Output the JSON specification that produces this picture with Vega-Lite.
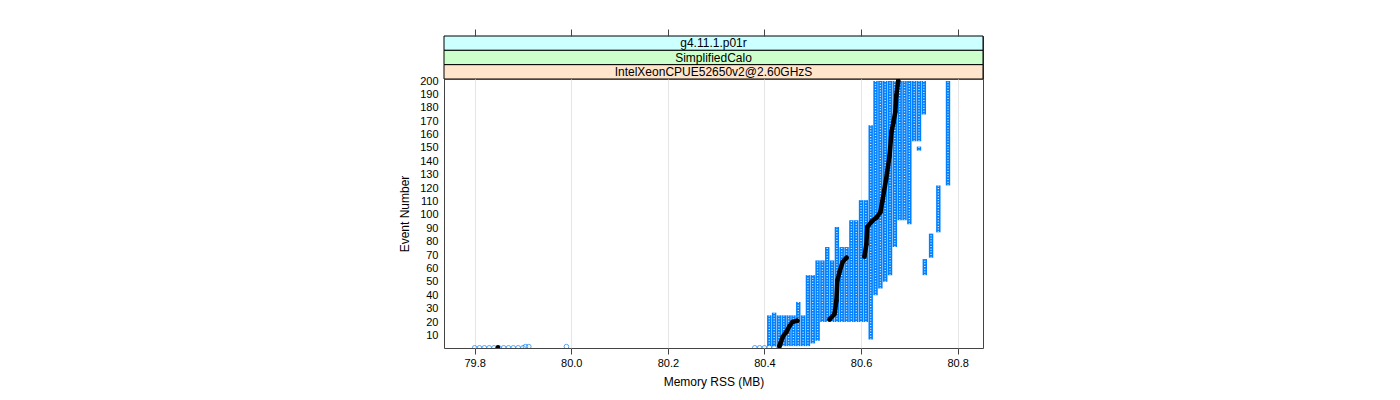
{
  "$schema": "https://vega.github.io/schema/vega-lite/v6.json",
  "padding": {"left": 398, "top": 28, "right": 5, "bottom": 5},
  "autosize": {"type": "pad"},
  "background": "white",
  "spacing": 0,
  "bounds": "flush",
  "config": {
    "font": "Liberation Sans",
    "view": {"stroke": "#444444", "strokeWidth": 1},
    "axis": {"labelFont": "Liberation Sans", "titleFont": "Liberation Sans", "labelColor": "#000000", "titleColor": "#000000", "titleFontWeight": "normal", "domain": false, "tickColor": "#444444", "grid": false}
  },
  "datasets": {
    "strips": [
      {"label": "g4.11.1.p01r"},
      {"label": "SimplifiedCalo"},
      {"label": "IntelXeonCPUE52650v2@2.60GHzS"}
    ],
    "cols": [
      {"v": 80.41, "a": 2, "b": 25},
      {"v": 80.42, "a": 2, "b": 27},
      {"v": 80.43, "a": 2, "b": 25},
      {"v": 80.44, "a": 2, "b": 25},
      {"v": 80.45, "a": 2, "b": 25},
      {"v": 80.46, "a": 2, "b": 25},
      {"v": 80.47, "a": 2, "b": 35},
      {"v": 80.48, "a": 2, "b": 25},
      {"v": 80.49, "a": 2, "b": 55},
      {"v": 80.50, "a": 4, "b": 55},
      {"v": 80.51, "a": 6, "b": 66},
      {"v": 80.52, "a": 20, "b": 66},
      {"v": 80.53, "a": 20, "b": 76},
      {"v": 80.54, "a": 20, "b": 66},
      {"v": 80.55, "a": 20, "b": 91},
      {"v": 80.56, "a": 20, "b": 76},
      {"v": 80.57, "a": 20, "b": 76},
      {"v": 80.58, "a": 20, "b": 96},
      {"v": 80.59, "a": 20, "b": 96},
      {"v": 80.60, "a": 20, "b": 111},
      {"v": 80.61, "a": 20, "b": 111},
      {"v": 80.62, "a": 7, "b": 167},
      {"v": 80.63, "a": 40, "b": 200},
      {"v": 80.64, "a": 45, "b": 200},
      {"v": 80.65, "a": 50, "b": 200},
      {"v": 80.66, "a": 55, "b": 200},
      {"v": 80.67, "a": 76, "b": 200},
      {"v": 80.68, "a": 96, "b": 200},
      {"v": 80.69, "a": 96, "b": 200},
      {"v": 80.70, "a": 93, "b": 200},
      {"v": 80.71, "a": 155, "b": 200},
      {"v": 80.72, "a": 155, "b": 200},
      {"v": 80.72, "a": 148, "b": 151},
      {"v": 80.73, "a": 175, "b": 200},
      {"v": 80.732, "a": 55, "b": 67},
      {"v": 80.745, "a": 68, "b": 86},
      {"v": 80.76, "a": 87, "b": 122},
      {"v": 80.78, "a": 122, "b": 200}
    ],
    "pts": [
      {"v": 79.80, "e": 0.7}, {"v": 79.81, "e": 0.7}, {"v": 79.82, "e": 0.7}, {"v": 79.83, "e": 0.7},
      {"v": 79.84, "e": 0.7}, {"v": 79.85, "e": 0.7}, {"v": 79.86, "e": 0.7}, {"v": 79.87, "e": 0.7},
      {"v": 79.88, "e": 0.7}, {"v": 79.89, "e": 0.7}, {"v": 79.90, "e": 0.7},
      {"v": 79.905, "e": 1.6}, {"v": 79.912, "e": 1.6}, {"v": 79.99, "e": 1.6},
      {"v": 80.38, "e": 0.7}, {"v": 80.39, "e": 0.7}, {"v": 80.40, "e": 0.7}, {"v": 80.41, "e": 1.2}, {"v": 80.42, "e": 0.7}
    ],
    "med": [
      {"seg": "s1", "v": 79.848, "e": 1},
      {"seg": "s2", "v": 80.431, "e": 2},
      {"seg": "s2", "v": 80.433, "e": 4},
      {"seg": "s2", "v": 80.438, "e": 9},
      {"seg": "s2", "v": 80.446, "e": 13},
      {"seg": "s2", "v": 80.452, "e": 17},
      {"seg": "s2", "v": 80.458, "e": 20},
      {"seg": "s2", "v": 80.468, "e": 21},
      {"seg": "s3", "v": 80.535, "e": 22},
      {"seg": "s3", "v": 80.545, "e": 26},
      {"seg": "s3", "v": 80.549, "e": 36},
      {"seg": "s3", "v": 80.551, "e": 51},
      {"seg": "s3", "v": 80.556, "e": 58},
      {"seg": "s3", "v": 80.562, "e": 65},
      {"seg": "s3", "v": 80.570, "e": 68},
      {"seg": "s4", "v": 80.607, "e": 69},
      {"seg": "s4", "v": 80.611, "e": 78},
      {"seg": "s4", "v": 80.613, "e": 91},
      {"seg": "s4", "v": 80.622, "e": 95},
      {"seg": "s4", "v": 80.632, "e": 98},
      {"seg": "s4", "v": 80.640, "e": 102},
      {"seg": "s4", "v": 80.644, "e": 110},
      {"seg": "s4", "v": 80.652, "e": 127},
      {"seg": "s4", "v": 80.659, "e": 144},
      {"seg": "s4", "v": 80.663, "e": 162},
      {"seg": "s4", "v": 80.667, "e": 169},
      {"seg": "s4", "v": 80.671, "e": 177},
      {"seg": "s4", "v": 80.673, "e": 189},
      {"seg": "s4", "v": 80.677, "e": 200}
    ]
  },
  "vconcat": [
    {
      "width": 539,
      "height": 43,
      "data": {"name": "strips"},
      "layer": [
        {
          "mark": {"type": "rect", "stroke": "#000000", "strokeWidth": 1},
          "encoding": {
            "y": {"field": "label", "type": "nominal", "sort": null, "scale": {"paddingInner": 0, "paddingOuter": 0}, "axis": null},
            "fill": {"field": "label", "type": "nominal", "scale": {"domain": ["g4.11.1.p01r", "SimplifiedCalo", "IntelXeonCPUE52650v2@2.60GHzS"], "range": ["#ccffff", "#ccffcc", "#ffe5cc"]}, "legend": null}
          }
        },
        {
          "mark": {"type": "text", "fontSize": 12, "font": "Liberation Sans", "color": "#000000", "baseline": "middle", "align": "center"},
          "encoding": {
            "y": {"field": "label", "type": "nominal", "sort": null, "axis": null},
            "text": {"field": "label"}
          }
        }
      ]
    },
    {
      "width": 539,
      "height": 269,
      "resolve": {"axis": {"x": "independent", "y": "independent"}},
      "layer": [
        {
          "data": {"name": "cols"},
          "mark": {"type": "rule", "color": "#0080ff", "strokeWidth": 4.4, "clip": true},
          "encoding": {
            "x": {"field": "v", "type": "quantitative", "scale": {"domain": [79.7365, 80.8525], "nice": false, "zero": false},
              "axis": {"orient": "bottom", "values": [79.8, 80.0, 80.2, 80.4, 80.6, 80.8], "format": ".1f", "tickSize": 6, "labelPadding": 3, "labelFontSize": 11, "grid": true, "gridColor": "#e6e6e6", "title": "Memory RSS (MB)", "titleFontSize": 12, "titlePadding": 8}},
            "y": {"field": "a", "type": "quantitative", "scale": {"domain": [0.6, 201.5], "nice": false, "zero": false},
              "axis": {"orient": "left", "values": [10, 20, 30, 40, 50, 60, 70, 80, 90, 100, 110, 120, 130, 140, 150, 160, 170, 180, 190, 200], "ticks": false, "labelPadding": 6, "labelFontSize": 11, "title": "Event Number", "titleFontSize": 12, "titlePadding": 8}},
            "y2": {"field": "b"}
          }
        },
        {
          "data": {"name": "cols"},
          "mark": {"type": "rule", "color": "#ffffff", "strokeWidth": 1.3, "strokeDash": [1, 1.7], "opacity": 0.9, "clip": true},
          "encoding": {
            "x": {"field": "v", "type": "quantitative",
              "axis": {"orient": "top", "offset": 43, "values": [79.8, 80.0, 80.2, 80.4, 80.6, 80.8], "labels": false, "tickSize": 7, "title": null, "grid": false}},
            "y": {"field": "a", "type": "quantitative", "axis": null},
            "y2": {"field": "b"}
          }
        },
        {
          "data": {"name": "pts"},
          "mark": {"type": "point", "shape": "circle", "filled": false, "color": "#0080ff", "size": 22, "strokeWidth": 1, "clip": true},
          "encoding": {
            "x": {"field": "v", "type": "quantitative", "axis": null},
            "y": {"field": "e", "type": "quantitative", "axis": null}
          }
        },
        {
          "data": {"name": "med"},
          "mark": {"type": "line", "color": "#000000", "strokeWidth": 4.5, "strokeCap": "round", "strokeJoin": "round", "clip": true},
          "encoding": {
            "x": {"field": "v", "type": "quantitative", "axis": null},
            "y": {"field": "e", "type": "quantitative", "axis": null},
            "detail": {"field": "seg", "type": "nominal"},
            "order": {"field": "e", "type": "quantitative"}
          }
        },
        {
          "data": {"name": "med"},
          "mark": {"type": "point", "shape": "circle", "filled": true, "color": "#000000", "size": 20, "opacity": 1, "clip": true},
          "encoding": {
            "x": {"field": "v", "type": "quantitative", "axis": null},
            "y": {"field": "e", "type": "quantitative", "axis": null}
          }
        }
      ]
    }
  ]
}
